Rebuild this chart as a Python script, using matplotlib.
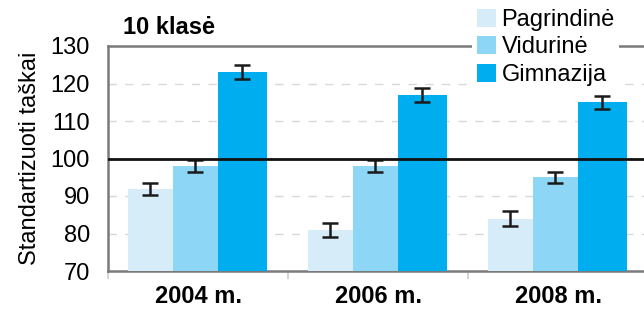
import matplotlib
matplotlib.use("Agg")
import matplotlib.pyplot as plt
import numpy as np

plt.rcParams['font.family'] = ['Liberation Sans', 'DejaVu Sans']

years = ["2004 m.", "2006 m.", "2008 m."]
series = ["Pagrindinė", "Vidurinė", "Gimnazija"]
pagrindine = [92, 81, 84]
vidurine = [98, 98, 95]
gimnazija = [123, 117, 115]
err_pagrindine = [1.6, 1.8, 1.9]
err_vidurine = [1.5, 1.5, 1.5]
err_gimnazija = [1.9, 1.9, 1.8]
title = "10 klasė"
ylabel = "Standartizuoti taškai"
yticks = [70, 80, 90, 100, 110, 120, 130]

values = [pagrindine, vidurine, gimnazija]
errors = [err_pagrindine, err_vidurine, err_gimnazija]
colors = ["#D6ECF9", "#8ED6F5", "#00AEEF"]
widths = [0.25, 0.25, 0.272]
start = -0.389

W, H = 644, 309
fig = plt.figure(figsize=(W / 100, H / 100), dpi=100)
ax = fig.add_axes([108 / W, 1 - 271 / H, 540 / W, 225 / H])

x = np.arange(len(years))
left = start
for vals, errs, col, w, lab in zip(values, errors, colors, widths, series):
    ax.bar(x + left, vals, width=w, align='edge', color=col, label=lab, zorder=3)
    ax.errorbar(x + left + w / 2, vals, yerr=errs, fmt='none', ecolor='#1a1a1a',
                elinewidth=1.8, capsize=6, capthick=1.8, zorder=4)
    left += w

ax.set_xlim(-0.5, len(years) - 0.5)
ax.set_ylim(70, 130)
ax.set_yticks(yticks)
ax.tick_params(axis='y', length=0, pad=13, labelsize=17)
ax.set_xticks(x)
ax.set_xticklabels(years, fontweight='bold', fontsize=17)
ax.tick_params(axis='x', which='major', length=0, pad=10)
ax.set_xticks(np.arange(len(years) + 1) - 0.5, minor=True)
ax.tick_params(axis='x', which='minor', length=6, color='#cccccc', width=1.2)

for v in [80, 90, 110, 120]:
    ax.axhline(v, color='#d9d9d9', lw=1.0, ls=(0, (6, 6)), zorder=1)
ax.axhline(100, color='#111111', lw=2.0, zorder=5)

for s in ['left', 'bottom', 'top']:
    ax.spines[s].set_color('#7a7a7a')
    ax.spines[s].set_linewidth(1.8)
ax.spines['right'].set_visible(False)

ax.set_ylabel(ylabel, fontsize=17, labelpad=7)

fig.text(123 / W, 1 - 27 / H, title, fontsize=17, fontweight='bold', va='center', ha='left')

leg = ax.legend(loc='upper left', bbox_to_anchor=(472 / W, 1 - 4 / H), bbox_transform=fig.transFigure,
                fontsize=17, frameon=True, fancybox=False, framealpha=1,
                handlelength=0.8, handleheight=0.8, handletextpad=0.25,
                labelspacing=0.22, borderpad=0.2, borderaxespad=0)
leg.get_frame().set_edgecolor('none')
leg.get_frame().set_facecolor('white')
leg.set_zorder(10)

fig.savefig("out.png", dpi=100)
